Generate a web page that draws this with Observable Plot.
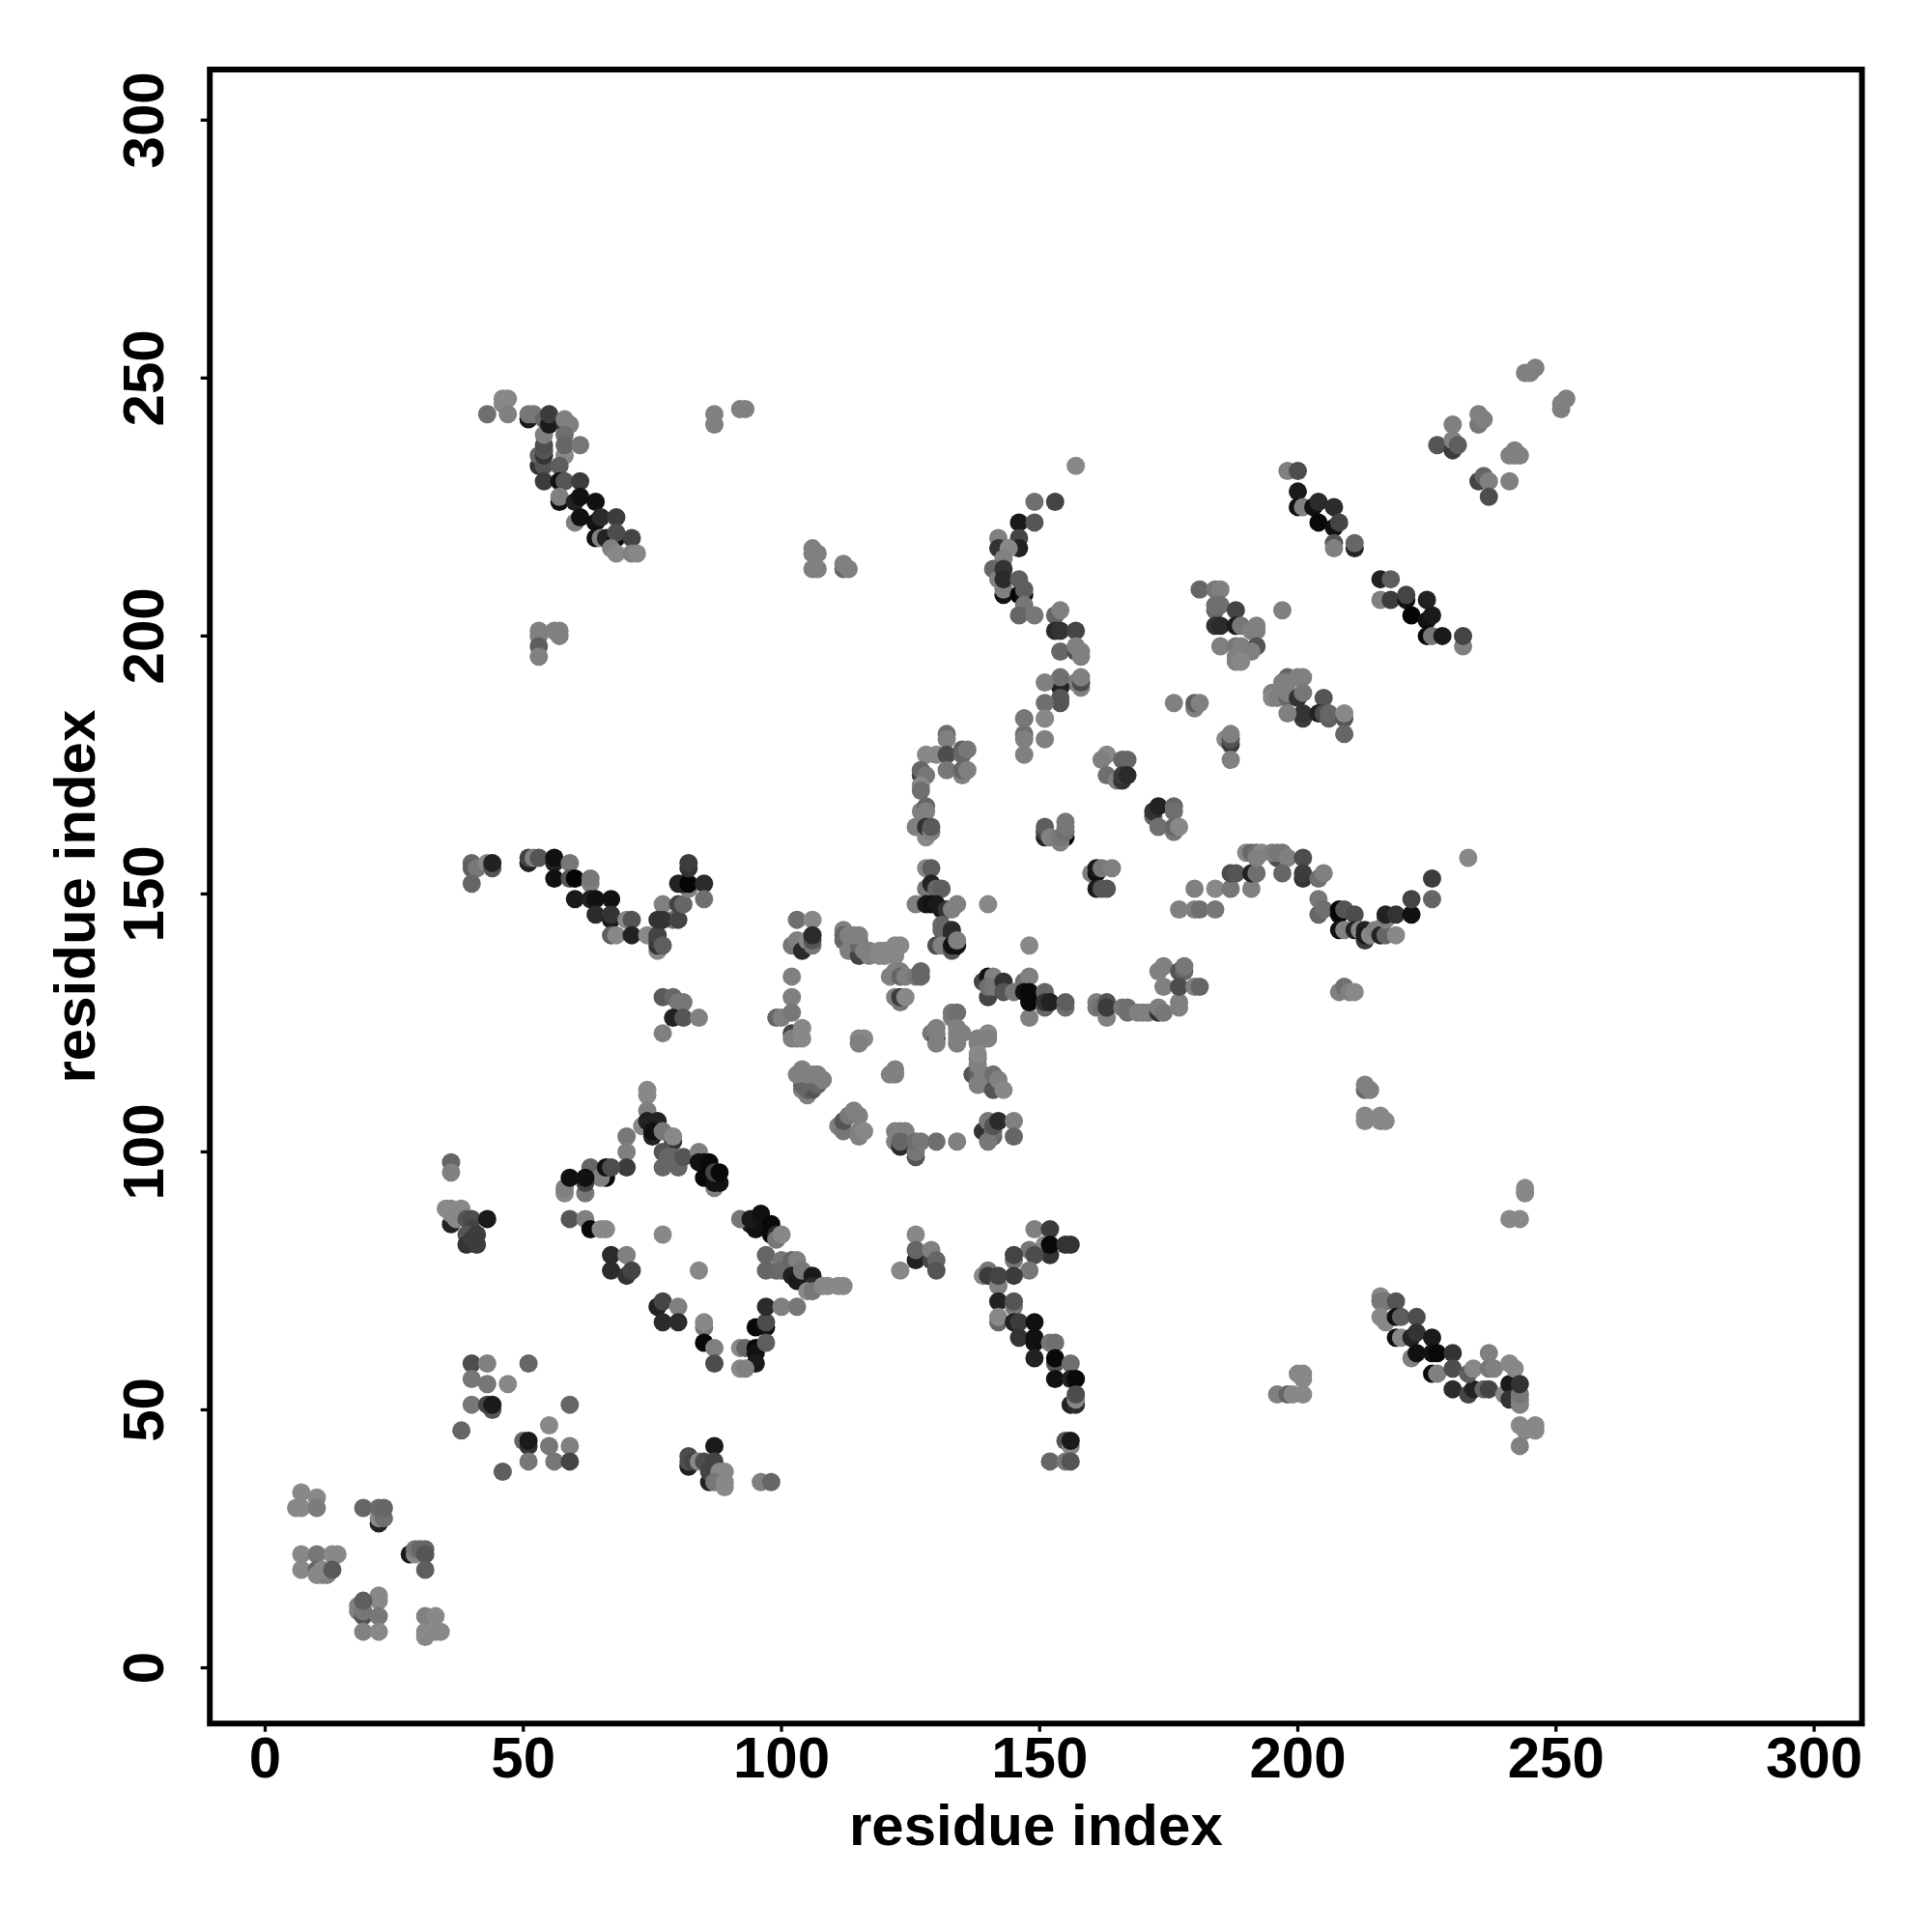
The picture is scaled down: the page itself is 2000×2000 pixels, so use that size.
<!DOCTYPE html>
<html><head><meta charset="utf-8">
<style>html,body{margin:0;padding:0;background:#fff}svg{display:block}</style>
<script src="https://cdn.jsdelivr.net/npm/d3@7"></script>
<script src="https://cdn.jsdelivr.net/npm/@observablehq/plot@0.6"></script>
</head><body><div id="c"></div>
<script>
const tickValues=[0,50,100,150,200,250,300];
const axisTitle="residue index";
// each contact: [residue i, residue j, grey level]
const cornerContacts=[[7,34,0x80],[10,33,0x80],[6,31,0x80],[7,31,0x80],[10,31,0x75],[19,31,0x60],[22,28,0x20],[22,29,0x80],[23,29,0x68],[22,31,0x65],[23,31,0x60],[7,22,0x80],[10,22,0x70],[13,22,0x80],[14,22,0x80],[7,19,0x80],[10,19,0x60],[10,18,0x80],[11,18,0x80],[12,18,0x78],[11,19,0x80],[13,19,0x55],[28,22,0x18],[29,22,0x80],[29,23,0x70],[30,23,0x60],[31,23,0x60],[31,22,0x50],[31,19,0x58],[22,14,0x80],[22,13,0x80],[18,12,0x78],[18,11,0x78],[19,10,0x50],[19,11,0x70],[19,13,0x58],[22,10,0x70],[19,7,0x7a],[22,7,0x80],[31,10,0x78],[33,10,0x80],[31,7,0x80],[31,6,0x80],[33,7,0x80],[34,7,0x80]];
const scatterContacts=[[40,59,0x48],[43,59,0x78],[51,59,0x60],[40,56,0x70],[43,55,0x70],[47,55,0x80],[40,51,0x70],[44,50,0x50],[43,51,0x40],[44,51,0x18],[59,51,0x60],[38,46,0x60],[55,47,0x80],[50,44,0x60],[51,43,0x30],[51,44,0x18],[55,43,0x70],[59,43,0x78],[51,40,0x70],[56,40,0x70],[59,40,0x40],[46,38,0x58],[82,41,0x48],[82,39,0x20],[82,40,0x48],[83,40,0x40],[84,40,0x80],[85,40,0x48],[87,43,0x18],[87,40,0x40],[86,36,0x20],[86,38,0x40],[88,38,0x80],[89,38,0x80],[87,36,0x70],[89,36,0x80],[89,35,0x80],[96,36,0x78],[98,36,0x60]];
const crossContacts=[[35,89,0x80],[36,89,0x80],[38,89,0x80],[36,86,0x20],[36,88,0x80],[37,87,0x80],[39,87,0x50],[40,87,0x48],[40,85,0x40],[39,84,0x50],[39,82,0x30],[41,82,0x38],[40,83,0x38],[41,84,0x38],[43,87,0x18],[36,98,0x60],[36,96,0x78],[59,87,0x50],[62,87,0x78],[63,85,0x08],[65,85,0x80],[66,85,0x80],[77,84,0x80],[84,77,0x80],[67,80,0x28],[70,80,0x78],[67,77,0x28],[70,76,0x30],[71,77,0x40],[76,70,0x20],[77,71,0x40],[80,70,0x78],[77,67,0x28],[80,67,0x28],[85,66,0x70],[85,67,0x80],[85,63,0x08],[87,62,0x78],[87,59,0x48],[92,62,0x80],[93,62,0x60],[95,62,0x08],[95,61,0x10],[95,59,0x18],[92,58,0x80],[93,58,0x78],[95,66,0x08],[97,66,0x10],[97,67,0x48],[97,70,0x28],[100,70,0x78],[103,70,0x70],[97,63,0x58],[94,86,0x18],[95,85,0x10],[92,87,0x70],[94,87,0x18],[96,88,0x10],[98,84,0x08],[98,86,0x08],[99,84,0x28],[99,83,0x70],[100,84,0x80],[97,80,0x60],[97,77,0x60],[99,77,0x60],[100,79,0x70],[100,77,0x65],[102,79,0x60],[103,79,0x78],[102,76,0x20],[103,75,0x18],[104,77,0x70],[106,76,0x18],[106,74,0x28],[105,73,0x80],[106,73,0x70],[108,74,0x80],[109,74,0x80],[111,74,0x80],[112,74,0x80],[126,84,0x80],[126,79,0x20],[126,81,0x60],[129,79,0x40],[129,81,0x78],[130,79,0x60],[130,77,0x50],[123,77,0x80]];
const rightArm=[[149,85,0x78],[152,85,0x38],[151,82,0x80],[152,80,0x30],[152,82,0x08],[155,82,0x30],[156,82,0x30],[148,81,0x70],[149,80,0x48],[145,79,0x70],[145,80,0x40],[148,77,0x70],[145,76,0x38],[139,76,0x80],[140,77,0x70],[140,76,0x38],[142,74,0x78],[142,76,0x40],[142,71,0x20],[145,70,0x70],[145,71,0x50],[142,67,0x60],[142,68,0x80],[145,67,0x20],[146,67,0x38],[149,67,0x10],[146,64,0x30],[149,63,0x10],[149,64,0x10],[152,63,0x70],[153,63,0x68],[149,60,0x20],[153,59,0x50],[153,60,0x08],[156,59,0x68],[153,56,0x10],[156,56,0x20],[157,56,0x08],[156,51,0x20],[157,51,0x28],[157,52,0x80],[157,53,0x48],[155,44,0x50],[156,43,0x80],[156,44,0x18],[152,40,0x60],[155,40,0x70],[156,40,0x50]];
const lowerRight=[[213,112,0x60],[213,113,0x78],[214,112,0x78],[213,107,0x80],[213,106,0x80],[216,107,0x80],[216,106,0x80],[217,106,0x80],[244,93,0x80],[244,92,0x80],[241,87,0x80],[243,87,0x80],[196,53,0x78],[198,53,0x60],[199,53,0x80],[201,53,0x80],[200,57,0x80],[201,57,0x80],[201,56,0x80],[216,72,0x80],[216,71,0x70],[217,71,0x70],[219,71,0x50],[216,68,0x80],[217,67,0x80],[219,68,0x10],[220,68,0x58],[223,68,0x48],[219,64,0x10],[220,64,0x80],[222,64,0x20],[223,65,0x30],[226,64,0x18],[222,60,0x78],[223,61,0x10],[226,61,0x10],[227,61,0x08],[230,61,0x30],[226,57,0x08],[227,57,0x78],[230,58,0x48],[230,54,0x28],[233,53,0x40],[234,54,0x20],[233,57,0x58],[234,58,0x80],[236,54,0x60],[237,54,0x40],[237,61,0x78],[237,58,0x70],[238,58,0x78],[240,53,0x80],[241,55,0x18],[241,52,0x30],[243,52,0x78],[243,51,0x78],[243,53,0x70],[241,59,0x80],[242,58,0x80],[243,55,0x30],[243,47,0x80],[246,47,0x80],[244,46,0x80],[246,46,0x80],[243,43,0x78]];
const midLeft=[[40,156,0x60],[40,155,0x58],[41,155,0x70],[43,156,0x80],[44,155,0x50],[44,156,0x20],[40,152,0x60],[51,156,0x20],[51,157,0x40],[52,157,0x78],[53,157,0x50],[56,156,0x20],[56,157,0x10],[59,156,0x70],[56,153,0x10],[59,153,0x50],[60,153,0x05],[63,152,0x78],[63,153,0x70],[60,149,0x18],[63,149,0x20],[64,149,0x10],[67,149,0x10],[64,146,0x28],[67,145,0x18],[67,146,0x30],[70,145,0x80],[71,145,0x50],[67,142,0x58],[68,142,0x80],[71,142,0x20],[74,142,0x80],[76,139,0x80],[76,140,0x30],[76,141,0x38],[76,142,0x40],[77,140,0x58],[77,148,0x78],[76,145,0x30],[79,145,0x70],[77,145,0x30],[80,145,0x40],[80,148,0x40],[81,148,0x60],[82,151,0x78],[80,152,0x20],[81,152,0x20],[82,152,0x05],[85,152,0x28],[85,149,0x68],[82,155,0x30],[82,156,0x38],[77,130,0x55],[79,130,0x60],[80,129,0x70],[81,129,0x70],[79,126,0x20],[81,126,0x50],[84,126,0x78],[77,123,0x78]];
const peakContacts=[[74,112,0x80],[74,111,0x80],[74,108,0x78],[73,105,0x80],[74,106,0x20],[76,106,0x20],[75,103,0x20],[75,104,0x10],[77,104,0x70],[79,102,0x30],[79,103,0x80],[77,97,0x60],[80,97,0x60],[77,100,0x50],[78,99,0x60],[79,99,0x60],[81,99,0x50],[84,100,0x78],[84,98,0x10],[85,98,0x10],[86,98,0x08],[87,93,0x78],[85,95,0x08],[87,94,0x10],[88,94,0x10],[87,96,0x40],[88,96,0x08],[70,103,0x70],[70,100,0x78],[70,97,0x38],[63,97,0x60],[66,95,0x08],[65,95,0x78],[66,97,0x10],[67,97,0x48],[58,92,0x80],[58,93,0x78],[62,92,0x70],[62,94,0x40],[59,95,0x10],[62,95,0x10]];
const loopContacts=[[102,140,0x70],[103,141,0x78],[104,139,0x28],[103,145,0x68],[106,145,0x80],[105,141,0x80],[106,140,0x70],[106,141,0x50],[106,142,0x28],[102,134,0x78],[102,130,0x78],[99,126,0x60],[100,126,0x78],[102,127,0x70],[102,123,0x40],[102,122,0x78],[103,122,0x78],[104,122,0x80],[104,124,0x80],[115,122,0x80],[116,122,0x80],[115,121,0x78],[105,111,0x78],[104,112,0x78],[105,112,0x60],[106,112,0x50],[104,113,0x60],[107,113,0x60],[103,115,0x78],[104,116,0x78],[105,115,0x78],[106,115,0x78],[107,115,0x78],[108,114,0x78],[111,105,0x78],[112,104,0x70],[112,106,0x50],[113,107,0x70],[114,108,0x78],[115,107,0x78],[115,103,0x78],[115,104,0x78],[116,104,0x80],[112,143,0x78],[112,142,0x60],[112,141,0x60],[113,142,0x78],[113,139,0x78],[115,138,0x40],[115,140,0x60],[115,141,0x60],[114,142,0x78],[115,142,0x78],[116,139,0x78],[117,139,0x78],[117,138,0x78],[119,139,0x80],[120,139,0x80],[121,139,0x80],[119,138,0x80],[120,138,0x80],[122,138,0x80],[122,140,0x80],[123,140,0x80],[121,134,0x78],[122,135,0x78],[123,135,0x78],[123,134,0x60],[124,134,0x78],[126,134,0x70],[127,134,0x60],[127,135,0x60],[122,130,0x78],[123,129,0x70],[123,130,0x38],[124,130,0x80],[129,123,0x70],[130,122,0x38],[130,121,0x78],[130,124,0x78],[130,123,0x78],[133,126,0x78],[133,127,0x70],[134,127,0x68],[134,121,0x78],[134,122,0x78],[134,123,0x78],[134,124,0x78],[135,123,0x78],[138,122,0x78],[140,123,0x80],[140,122,0x78],[138,121,0x78],[137,115,0x50],[138,116,0x60],[138,114,0x60],[138,117,0x78],[138,118,0x78],[138,119,0x80],[139,115,0x78],[138,113,0x78],[140,113,0x78],[141,112,0x50],[141,115,0x68],[142,114,0x78],[143,112,0x80],[122,116,0x78],[121,115,0x78],[122,115,0x78],[122,102,0x78],[122,104,0x78],[123,104,0x78],[124,104,0x78],[123,101,0x28],[123,102,0x60],[126,99,0x50],[126,100,0x70],[126,102,0x68],[127,102,0x70],[130,102,0x68],[134,102,0x78],[139,104,0x30],[141,103,0x60],[141,104,0x68],[140,102,0x70],[140,106,0x70],[141,105,0x50],[142,106,0x28],[145,106,0x78],[145,103,0x60]];
const centreContacts=[[128,155,0x80],[129,155,0x58],[128,151,0x70],[129,152,0x20],[130,151,0x60],[131,151,0x58],[126,148,0x78],[128,148,0x18],[129,148,0x10],[130,148,0x18],[131,147,0x18],[132,147,0x30],[133,147,0x78],[134,148,0x78],[140,148,0x80],[131,144,0x60],[131,143,0x60],[133,143,0x28],[133,142,0x28],[130,140,0x48],[131,140,0x78],[133,139,0x50],[133,140,0x10],[134,140,0x10],[134,141,0x78],[148,140,0x80],[132,181,0x68],[132,180,0x78],[128,177,0x80],[130,177,0x80],[132,177,0x48],[135,178,0x58],[135,177,0x60],[136,178,0x70],[132,174,0x70],[135,173,0x78],[135,174,0x60],[136,174,0x78],[127,173,0x30],[127,174,0x60],[128,173,0x70],[127,171,0x80],[127,170,0x68],[127,166,0x78],[128,167,0x60],[128,166,0x78],[126,163,0x78],[128,161,0x80],[128,163,0x30],[129,162,0x78],[129,163,0x55],[139,133,0x40],[140,130,0x40],[140,134,0x10],[141,134,0x78],[140,132,0x68],[141,132,0x70],[143,133,0x30],[143,131,0x50],[145,131,0x70],[147,133,0x68],[148,134,0x78],[148,126,0x78],[147,131,0x10],[148,131,0x08],[148,129,0x08],[151,131,0x60],[151,128,0x60],[151,129,0x30],[152,129,0x20],[155,128,0x68],[155,129,0x58],[161,129,0x78],[161,128,0x70],[162,128,0x68],[163,126,0x78],[163,129,0x50],[163,128,0x38],[166,128,0x70],[167,128,0x68],[167,127,0x68],[169,127,0x78],[170,127,0x78],[171,127,0x78],[173,127,0x30],[173,128,0x78],[174,127,0x70],[174,132,0x78],[173,135,0x78],[174,136,0x78],[177,135,0x50],[178,135,0x60],[178,136,0x70],[177,128,0x78],[177,129,0x78],[177,132,0x48],[180,132,0x78],[181,132,0x60]];
const centreRight=[[147,184,0x70],[147,181,0x68],[147,180,0x78],[147,177,0x78],[151,184,0x80],[151,180,0x78],[186,180,0x80],[187,179,0x38],[187,180,0x50],[187,181,0x78],[187,176,0x78],[163,177,0x80],[162,176,0x78],[166,176,0x60],[167,176,0x60],[163,173,0x68],[165,172,0x78],[166,172,0x30],[166,173,0x38],[167,173,0x28],[172,165,0x60],[172,166,0x30],[173,167,0x20],[176,167,0x60],[176,166,0x68],[173,163,0x68],[176,162,0x70],[176,163,0x60],[177,163,0x80],[151,161,0x20],[151,162,0x40],[151,163,0x58],[152,161,0x78],[155,161,0x05],[154,160,0x78],[154,161,0x70],[155,162,0x68],[155,163,0x70],[155,164,0x70],[160,154,0x78],[161,154,0x10],[161,155,0x18],[162,155,0x70],[164,155,0x78],[161,151,0x18],[162,151,0x50],[163,151,0x50],[180,151,0x78],[184,151,0x80],[187,151,0x70],[191,151,0x78],[187,154,0x48],[188,154,0x50],[191,154,0x20],[192,154,0x68],[177,147,0x78],[180,147,0x78],[181,147,0x68],[184,147,0x70],[190,158,0x80],[191,158,0x60],[192,158,0x68],[193,158,0x80],[192,157,0x78],[196,157,0x48],[195,158,0x78],[196,158,0x70],[197,158,0x70],[198,157,0x78],[201,157,0x48],[197,154,0x60],[201,153,0x30],[201,154,0x38],[204,153,0x68],[205,154,0x78],[204,149,0x70],[204,146,0x60],[205,147,0x68],[208,146,0x08],[208,147,0x05],[209,147,0x50],[211,146,0x48],[208,143,0x10],[209,143,0x78],[211,143,0x20],[212,143,0x80],[213,141,0x38],[213,143,0x20],[213,142,0x18],[214,142,0x80],[215,143,0x78],[216,142,0x20],[217,142,0x60],[217,145,0x78],[217,146,0x20],[219,146,0x30],[219,142,0x80],[222,146,0x10],[222,149,0x40],[226,149,0x60],[226,153,0x38],[233,157,0x80],[208,131,0x78],[209,132,0x68],[210,131,0x78],[211,131,0x80]];
const upperLeft=[[43,243,0x68],[46,245,0x80],[46,246,0x80],[47,246,0x80],[47,243,0x78],[51,242,0x18],[51,243,0x70],[52,243,0x70],[53,233,0x30],[53,235,0x60],[54,233,0x50],[54,235,0x30],[54,236,0x50],[54,237,0x48],[54,239,0x78],[54,242,0x60],[55,241,0x18],[55,243,0x38],[58,241,0x30],[58,242,0x78],[59,241,0x78],[58,239,0x68],[58,235,0x80],[58,237,0x60],[61,237,0x70],[57,233,0x58],[54,230,0x38],[57,230,0x10],[58,230,0x50],[61,230,0x38],[57,226,0x10],[57,227,0x78],[60,226,0x20],[61,227,0x10],[64,226,0x10],[60,222,0x78],[61,223,0x10],[64,222,0x10],[65,223,0x28],[68,223,0x38],[64,219,0x10],[65,219,0x78],[66,219,0x20],[68,219,0x08],[68,220,0x48],[71,219,0x40],[67,217,0x78],[68,216,0x80],[71,216,0x78],[72,216,0x80],[53,201,0x78],[53,200,0x78],[53,198,0x58],[53,196,0x78],[56,201,0x78],[57,201,0x78],[57,200,0x78],[87,243,0x78],[87,241,0x78],[92,244,0x78],[93,244,0x78],[106,213,0x78],[107,213,0x78],[106,217,0x78],[106,216,0x78],[107,216,0x78],[112,213,0x60],[112,214,0x78],[113,213,0x78]];
const upperMiddle=[[157,233,0x80],[149,226,0x68],[153,226,0x40],[146,222,0x18],[149,222,0x50],[142,219,0x78],[146,219,0x40],[146,217,0x20],[143,217,0x68],[142,217,0x30],[144,217,0x80],[143,215,0x78],[141,213,0x60],[142,211,0x78],[143,213,0x30],[143,208,0x10],[143,209,0x78],[143,211,0x28],[146,211,0x58],[146,208,0x05],[147,208,0x10],[147,209,0x58],[147,206,0x70],[146,204,0x60],[149,204,0x70],[153,204,0x60],[154,205,0x78],[153,201,0x28],[154,201,0x30],[157,201,0x40],[154,197,0x60],[157,197,0x48],[157,198,0x78],[158,197,0x78],[158,196,0x78],[157,191,0x78],[158,190,0x78],[158,191,0x48],[158,192,0x78],[154,190,0x20],[154,192,0x68],[151,191,0x78],[154,187,0x50],[154,188,0x50],[151,187,0x68],[151,184,0x80],[147,184,0x70],[176,187,0x78],[180,186,0x78],[180,187,0x58],[181,187,0x78]];
const upperRight=[[244,251,0x78],[245,251,0x78],[246,252,0x78],[251,244,0x78],[251,245,0x78],[252,246,0x78],[230,241,0x78],[235,241,0x70],[235,243,0x78],[236,242,0x78],[227,237,0x50],[230,236,0x38],[230,238,0x78],[231,237,0x58],[241,235,0x78],[242,235,0x78],[243,235,0x78],[242,236,0x78],[235,230,0x40],[236,231,0x60],[237,230,0x78],[241,230,0x78],[237,227,0x48],[198,232,0x78],[200,232,0x48],[200,228,0x18],[200,225,0x10],[201,225,0x78],[203,225,0x10],[204,226,0x28],[207,225,0x28],[204,222,0x08],[207,221,0x10],[208,222,0x40],[207,218,0x50],[207,217,0x78],[211,217,0x20],[211,218,0x60],[216,211,0x20],[218,211,0x58],[216,207,0x78],[218,207,0x38],[221,207,0x10],[221,208,0x40],[225,207,0x20],[222,204,0x05],[225,203,0x10],[226,204,0x18],[225,200,0x08],[226,200,0x70],[228,200,0x18],[232,198,0x78],[232,200,0x40],[181,209,0x60],[184,209,0x70],[185,209,0x78],[184,205,0x60],[184,206,0x68],[185,206,0x68],[188,205,0x40],[197,205,0x78],[184,202,0x30],[185,202,0x28],[188,202,0x18],[189,202,0x70],[192,202,0x78],[191,201,0x78],[192,201,0x78],[185,198,0x78],[188,198,0x70],[189,198,0x78],[192,198,0x50],[191,197,0x78],[188,195,0x78],[188,196,0x78],[189,195,0x80],[198,192,0x60],[197,191,0x78],[198,191,0x78],[200,192,0x78],[201,192,0x78],[195,189,0x78],[195,188,0x80],[196,188,0x78],[198,188,0x60],[198,189,0x78],[200,188,0x30],[201,189,0x70],[205,188,0x50],[201,184,0x38],[201,185,0x30],[198,185,0x78],[204,185,0x20],[205,185,0x48],[206,184,0x58],[206,185,0x60],[209,184,0x50],[209,185,0x80],[209,181,0x60]];
const contacts=[...cornerContacts,...scatterContacts,...crossContacts,...rightArm,...lowerRight,...midLeft,...peakContacts,...loopContacts,...centreContacts,...centreRight,...upperLeft,...upperMiddle,...upperRight];
const font="Liberation Sans";
const chart=Plot.plot({
  width:2000,height:2000,
  marginLeft:216.7,marginRight:73,marginTop:71.5,marginBottom:216.3,
  style:{background:"#fff",fontFamily:font},
  x:{domain:[-10.72,309.26]},
  y:{domain:[-10.8,309.8]},
  color:{type:"linear",domain:[0,240],range:["#000","#fff"]},
  marks:[
    Plot.dot(contacts,{x:d=>d[0],y:d=>d[1],fill:d=>d[2],r:9.5,stroke:"none"}),
    Plot.frame({stroke:"#000",strokeWidth:6}),
    Plot.axisX(tickValues,{label:null,tickSize:9,strokeWidth:3.3,tickPadding:4,fontSize:60,fontWeight:"bold",fill:"#000",fontFamily:font}),
    Plot.axisY(tickValues,{label:null,tickSize:9,strokeWidth:3.3,tickFormat:()=>"" }),
    Plot.text(tickValues,{y:d=>d,text:d=>String(d),frameAnchor:"left",dx:-67,rotate:-90,textAnchor:"middle",lineAnchor:"middle",fontSize:60,fontWeight:"bold",fill:"#000",fontFamily:font}),
    Plot.text([axisTitle],{frameAnchor:"bottom",dy:126,textAnchor:"middle",lineAnchor:"bottom",fontSize:60,fontWeight:"bold",fill:"#000",fontFamily:font}),
    Plot.text([axisTitle],{frameAnchor:"left",dx:-138,rotate:-90,textAnchor:"middle",lineAnchor:"middle",fontSize:60,fontWeight:"bold",fill:"#000",fontFamily:font})
  ]
});
document.getElementById("c").appendChild(chart);
</script></body></html>
